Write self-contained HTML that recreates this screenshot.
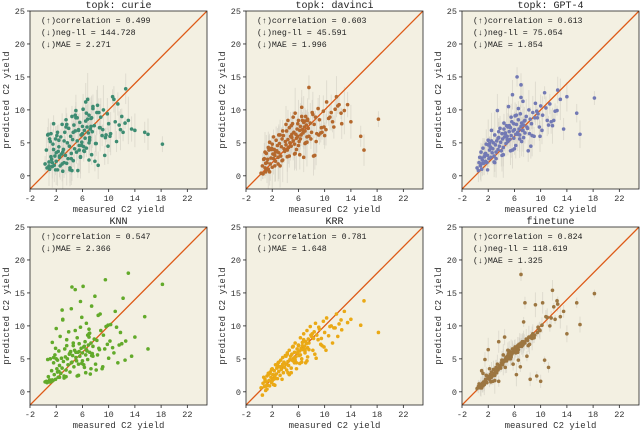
<!DOCTYPE html>
<html><head><meta charset="utf-8"><style>
html,body{margin:0;padding:0;background:#fff;}
svg{display:block;font-family:"Liberation Mono",monospace;}
</style></head><body>
<svg id="fig" width="640" height="444" viewBox="0 0 640 444"></svg>
<script>
const measured=[0.3,0.5,0.6,0.8,0.9,1.0,1.1,1.2,1.3,1.4,1.5,1.6,1.7,1.8,1.9,2.0,2.1,2.2,2.3,2.4,2.5,2.6,2.7,2.8,2.9,3.0,3.1,3.2,3.3,3.4,3.5,3.6,3.7,3.8,3.9,4.0,4.1,4.2,4.3,4.4,4.5,4.6,4.7,4.8,4.9,5.0,5.1,5.2,5.3,5.4,5.5,5.6,5.7,5.8,5.9,6.0,6.1,6.2,6.3,6.4,6.5,6.6,6.7,6.8,6.9,7.0,7.1,7.2,7.3,7.4,7.5,7.6,7.8,8.0,8.2,8.4,8.6,8.8,9.0,9.2,9.5,9.8,10.0,10.3,10.6,11.0,11.4,11.8,12.2,12.6,13.0,13.5,14.0,15.5,16.0,18.2,1.0,2.5,5.0,7.0,
0.7,1.2,1.9,2.4,3.0,3.5,4.1,4.6,5.2,5.7,6.2,6.6,7.1,7.6,8.1,8.7,9.4,10.2,11.2,12.5,0.9,1.6,2.2,2.9,3.6,4.3,4.9,5.5,6.0,6.5,7.0,7.4,7.9,8.5,9.1,9.9,10.8,12.0,3.2,4.4,5.4,6.3,6.8,7.3,2.0,1.4,5.9,8.3,9.6,11.6];
const predCurie=[1.8,3.9,1.2,6.3,2.1,1.0,5.2,6.4,2.5,1.4,4.8,7.9,1.6,3.0,5.6,2.2,6.1,0.9,3.7,4.4,2.8,1.5,5.9,3.3,7.8,0.7,4.0,2.0,6.6,3.1,8.5,1.9,5.0,2.6,7.2,4.5,0.9,6.0,3.4,9.0,5.5,2.3,7.7,4.1,6.8,9.9,3.6,5.3,0.8,7.0,4.6,8.1,2.9,6.2,5.1,7.5,10.1,3.8,6.9,5.7,8.3,4.2,7.4,11.6,6.5,9.2,5.4,7.1,8.7,3.2,6.7,10.5,7.6,4.9,9.6,1.6,7.3,8.9,6.1,10.0,5.8,9.4,7.9,6.4,12.0,8.2,10.9,7.0,6.6,13.2,8.4,7.1,6.9,6.6,6.3,4.8,5.6,3.0,8.8,2.4,
6.2,2.9,0.9,5.4,3.6,7.4,1.2,6.6,8.8,2.8,4.4,9.5,5.8,10.2,4.9,7.3,3.1,6.0,5.2,8.0,1.5,4.0,6.6,1.8,7.8,2.6,9.2,3.9,6.4,11.2,5.0,8.8,2.2,9.6,7.0,4.5,11.6,9.0,5.3,0.8,6.9,3.7,8.6,7.5,3.5,2.0,4.6,10.7,6.2,7.7];
const predDavinci=[0.4,1.5,0.3,2.6,1.2,0.6,3.4,2.0,2.5,1.0,3.9,5.1,1.8,2.7,4.2,1.3,3.3,2.6,4.0,3.1,2.2,5.4,3.8,4.6,2.8,3.5,4.9,6.2,3.0,4.4,5.6,2.4,6.1,4.1,3.7,5.2,4.7,6.8,3.9,5.5,4.3,7.3,5.0,6.0,4.5,5.8,7.9,5.3,6.6,4.8,9.5,6.3,5.7,7.1,6.0,8.4,5.2,6.9,7.5,6.2,10.4,7.0,6.5,8.1,7.4,6.8,9.0,7.7,5.9,8.6,7.2,13.4,8.0,6.6,9.3,7.8,8.9,6.4,10.2,8.5,7.3,9.8,6.1,11.2,8.7,9.6,7.4,12.0,10.8,7.9,9.9,10.8,8.2,6.0,3.9,8.6,1.9,3.6,6.3,8.3,
2.5,0.9,4.0,1.5,6.2,2.3,7.8,3.0,8.9,4.0,3.2,8.4,5.0,6.0,9.6,5.2,6.5,7.0,8.2,9.5,3.6,0.6,5.9,1.8,6.8,2.9,7.6,3.4,4.6,9.0,4.9,8.4,5.6,3.1,6.2,7.4,8.9,10.6,1.5,8.4,3.3,5.6,2.8,5.1,4.8,4.3,7.9,3.0,6.6,10.1];
const predGpt4=[1.2,0.8,2.0,1.5,3.6,1.0,2.4,4.2,1.9,2.9,3.3,2.2,4.8,2.0,3.1,5.4,2.6,3.9,4.4,2.8,6.9,3.5,4.1,5.0,3.0,6.2,4.7,3.6,5.3,9.9,4.0,5.8,4.5,7.2,5.1,3.8,6.4,5.6,4.3,8.0,5.9,6.5,4.9,7.6,6.0,5.2,10.5,6.7,5.5,7.3,6.1,8.2,12.3,6.8,5.7,7.0,9.1,6.3,7.8,15.0,6.6,8.5,7.1,6.2,9.4,7.5,8.0,6.9,11.3,7.7,8.3,6.5,9.0,7.2,10.0,8.6,7.9,9.6,6.0,11.0,8.8,7.4,10.6,9.2,12.6,8.4,10.9,7.6,9.8,13.0,11.6,7.1,12.0,9.5,6.3,11.8,2.7,5.3,7.4,13.8,
2.8,1.9,0.9,4.3,2.0,5.7,3.1,6.4,7.6,3.9,4.6,10.2,5.2,8.4,3.8,6.1,9.8,6.9,7.7,9.9,1.8,3.4,4.9,2.1,6.7,3.2,5.5,8.9,4.1,6.3,11.9,5.8,7.4,4.5,8.8,6.0,10.3,8.4,2.6,7.1,3.8,9.2,5.6,6.9,4.7,2.9,7.9,6.4,9.4,8.2];
const predKnn=[1.5,1.6,1.4,2.3,1.5,1.8,5.0,1.6,3.2,7.5,1.7,4.4,2.6,5.6,1.9,9.6,3.5,4.8,2.2,6.2,4.0,8.4,2.8,5.1,3.6,11.0,4.6,2.4,6.5,5.3,3.3,7.9,5.0,4.1,9.1,5.7,3.0,6.1,12.6,4.5,5.5,7.0,3.8,6.3,15.5,5.2,4.7,8.2,6.0,2.5,7.3,5.4,9.8,6.6,4.3,5.9,16.0,6.8,3.7,7.6,5.6,10.4,6.2,4.9,7.1,8.8,6.0,2.7,7.4,13.0,5.8,6.9,8.0,4.2,7.8,11.6,6.4,9.3,3.5,8.6,17.0,7.2,5.1,10.2,6.7,12.2,4.4,9.0,14.2,7.7,18.0,5.4,8.3,11.4,6.5,16.3,1.5,2.2,6.0,9.5,
4.9,1.5,6.6,3.1,10.9,2.3,5.9,7.4,2.4,13.7,4.1,6.4,8.9,5.4,3.3,11.8,6.5,7.7,9.8,4.8,1.6,5.2,3.0,12.4,7.0,4.4,9.3,6.1,4.7,2.9,8.3,5.5,14.5,6.6,3.8,10.1,5.9,7.3,2.1,15.9,4.2,6.9,8.6,3.5,5.0,1.8,11.3,5.6,9.9,7.1];
const predKrr=[0.6,-0.5,1.3,0.8,1.9,0.2,1.5,2.4,1.0,2.8,1.7,0.9,3.0,2.2,1.4,3.5,2.6,1.9,3.2,2.3,4.1,2.7,3.6,2.0,4.4,3.1,3.8,2.5,4.8,3.4,3.9,5.2,2.9,4.5,3.7,5.5,4.2,3.3,5.9,4.6,4.0,6.3,4.9,5.4,3.6,5.7,6.8,4.7,5.1,6.0,7.4,5.3,4.4,6.5,5.8,7.1,5.5,6.2,8.2,6.6,5.0,7.0,6.4,8.8,6.9,5.9,7.6,7.3,9.3,6.7,8.0,7.4,9.9,8.4,6.3,9.1,10.4,8.6,7.9,9.5,8.1,10.7,9.0,11.2,8.5,10.0,9.7,11.8,10.3,9.4,12.2,10.5,11.0,10.1,13.8,9.0,0.9,2.0,4.8,6.2,
2.2,0.4,3.4,1.0,4.5,1.9,5.4,2.6,6.9,3.5,4.3,7.5,4.4,6.4,8.8,5.1,7.2,6.3,7.4,10.9,1.6,2.8,1.1,3.9,4.2,5.7,2.9,4.8,7.0,4.5,6.4,5.3,8.6,5.7,9.8,6.8,9.9,8.4,3.8,2.9,4.4,5.6,7.9,4.7,1.7,2.6,6.0,8.1,7.0,9.7];
const predFinetune=[0.5,0.8,1.2,0.6,1.0,3.2,1.3,2.8,1.5,1.1,4.9,1.8,2.5,1.4,2.0,6.4,2.3,1.9,2.6,1.5,3.0,2.4,1.6,3.4,2.8,1.7,3.1,3.7,2.9,4.2,3.5,7.6,3.9,4.0,3.6,4.4,4.8,4.1,5.6,4.6,8.3,4.9,5.2,4.7,5.4,5.1,5.8,6.2,5.5,5.0,6.0,5.7,6.5,4.2,6.1,6.3,6.8,5.9,2.6,6.6,7.0,6.4,7.2,6.9,3.8,7.4,7.1,7.6,7.3,10.6,7.5,13.5,8.0,7.8,8.3,1.9,8.5,8.8,8.2,13.2,9.0,9.4,1.6,13.5,4.8,11.3,10.0,15.4,11.0,13.3,11.4,12.2,8.8,13.5,10.2,14.9,0.6,2.2,6.3,17.8,
1.0,0.9,2.0,2.2,2.5,3.3,4.8,3.7,5.0,5.9,6.2,4.8,6.9,7.4,7.0,8.1,2.4,10.1,3.7,13.8,0.8,1.9,3.5,2.7,1.6,4.5,5.1,5.3,6.5,6.0,7.2,7.6,5.4,8.2,8.6,9.3,11.4,12.9,3.2,4.6,5.7,6.1,7.0,7.1,2.0,1.3,6.4,7.2,9.8,11.2];
const errBars=[1.5,2.5,1.0,3.0,2.0,0.8,3.5,2.2,1.2,4.0,2.8,1.6,3.2,0.9,2.4,4.5,1.8,3.0,2.0,1.1,3.8,2.6,1.4,3.3,2.1,5.0,1.7,2.9,1.3,3.6,2.3,4.2,1.9,2.7,1.0,3.4,2.5,1.5,4.1,2.0,3.1,1.2,2.8,4.6,1.6,3.0,2.2,3.7,1.4,2.6,4.8,1.8,3.2,2.4,1.1,3.9,2.9,1.5,4.4,2.1,3.3,1.7,2.7,5.0,2.0,3.5,1.3,2.8,4.0,1.9,3.1,2.3,3.8,1.6,4.3,2.6,1.2,3.6,2.0,4.7,1.8,3.0,2.5,4.1,1.4,3.4,2.2,3.9,1.7,2.9,4.5,2.4,3.2,2.0,3.0,1.5,1.0,2.0,3.0,2.5];
const xTicks=[-2,2,6,10,14,18,22];
const yTicks=[0,5,10,15,20,25];
const panels=[
 {name:"curie",title:"topk: curie",pred:predCurie,color:"#3d8c72",err:0.8,stats:["(↑)correlation = 0.499","(↓)neg-ll = 144.728","(↓)MAE = 2.271"]},
 {name:"davinci",title:"topk: davinci",pred:predDavinci,color:"#b4682d",err:0.8,stats:["(↑)correlation = 0.603","(↓)neg-ll = 45.591","(↓)MAE = 1.996"]},
 {name:"gpt4",title:"topk: GPT-4",pred:predGpt4,color:"#7279b4",err:0.7,stats:["(↑)correlation = 0.613","(↓)neg-ll = 75.054","(↓)MAE = 1.854"]},
 {name:"knn",title:"KNN",pred:predKnn,color:"#62aa2a",err:0,stats:["(↑)correlation = 0.547","(↓)MAE = 2.366"]},
 {name:"krr",title:"KRR",pred:predKrr,color:"#eaa915",err:0,stats:["(↑)correlation = 0.781","(↓)MAE = 1.648"]},
 {name:"finetune",title:"finetune",pred:predFinetune,color:"#9c7641",err:0.4,stats:["(↑)correlation = 0.824","(↓)neg-ll = 118.619","(↓)MAE = 1.325"]}
];
const svg=document.getElementById('fig');
const NS="http://www.w3.org/2000/svg";
function mk(tag,attrs,parent){const e=document.createElementNS(NS,tag);for(const k in attrs)e.setAttribute(k,attrs[k]);parent.appendChild(e);return e;}
const lefts=[30,246,462],tops=[11,227],W=177,H=178,MIN=-2,MAX=25;
panels.forEach((p,i)=>{
 const L=lefts[i%3],T=tops[Math.floor(i/3)];
 const sx=v=>L+(v-MIN)/(MAX-MIN)*W, sy=v=>T+H-(v-MIN)/(MAX-MIN)*H;
 const g=mk('g',{},svg);
 
 
 const bg=mk('rect',{x:L,y:T,width:W,height:H,fill:'#f3f0e2'},g);
 
 
 const clip=mk('clipPath',{id:'c'+i},g);mk('rect',{x:L,y:T,width:W,height:H},clip);
 const inner=mk('g',{'clip-path':'url(#c'+i+')'},g);
 const n=Math.min(measured.length,p.pred.length);
 if(p.err>0){
  for(let j=0;j<n;j++){const x=measured[j];const e=errBars[j%errBars.length]*p.err;
   const l=mk('line',{x1:sx(x),x2:sx(x),y1:sy(p.pred[j]-e),y2:sy(p.pred[j]+e),stroke:'#d2cfc4','stroke-width':1,opacity:0.6},inner);
   
   }
 }
 const diag=mk('line',{x1:sx(MIN),y1:sy(MIN),x2:sx(MAX),y2:sy(MAX),stroke:'#dd5a17','stroke-width':1.3},inner);
 
 
 for(let j=0;j<n;j++){
  const c=mk('circle',{cx:sx(measured[j]),cy:sy(p.pred[j]),r:1.8,fill:p.color},inner);
  
  
 }
 const fr=mk('rect',{x:L,y:T,width:W,height:H,fill:'none',stroke:'#222','stroke-width':0.8},g);
 
 
 xTicks.forEach(t=>{mk('line',{x1:sx(t),x2:sx(t),y1:T+H,y2:T+H+3,stroke:'#222','stroke-width':0.8},g);
  const tx=mk('text',{x:sx(t),y:T+H+12,'font-size':8.5,'text-anchor':'middle',fill:'#333'},g);tx.textContent=t;
  
  });
 yTicks.forEach(t=>{mk('line',{x1:L-3,x2:L,y1:sy(t),y2:sy(t),stroke:'#222','stroke-width':0.8},g);
  const tx=mk('text',{x:L-5,y:sy(t)+3,'font-size':8.5,'text-anchor':'end',fill:'#333'},g);tx.textContent=t;
  
  });
 const ti=mk('text',{x:L+W/2,y:T-3,'font-size':10,'text-anchor':'middle',fill:'#222'},g);ti.textContent=p.title;
 
 
 const xl=mk('text',{x:L+W/2,y:T+H+23,'font-size':9,'text-anchor':'middle',fill:'#333'},g);xl.textContent='measured C2 yield';
 
 
 const yl=mk('text',{x:0,y:0,'font-size':9,'text-anchor':'middle',fill:'#333',transform:'translate('+(L-21)+','+(T+H/2)+') rotate(-90)'},g);yl.textContent='predicted C2 yield';
 
 
 p.stats.forEach((s,k)=>{const st=mk('text',{x:L+11,y:T+12+k*12,'font-size':8.3,fill:'#222'},g);st.textContent=s;
  
  });
});
</script>
</body></html>
